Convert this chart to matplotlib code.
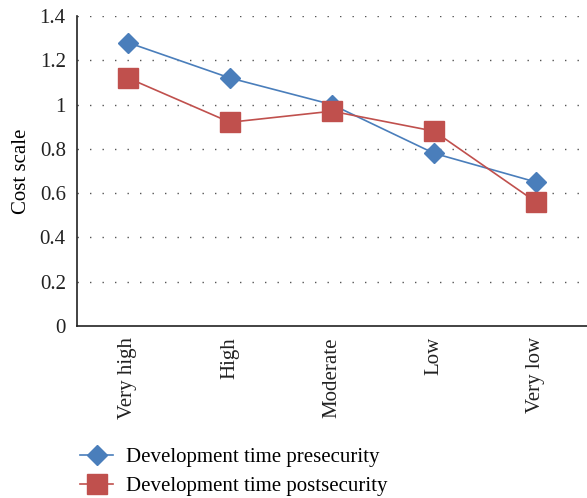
import numpy as np
import matplotlib
matplotlib.use("Agg")
import matplotlib.pyplot as plt

# ─────────────────────────────────────────────────────────────
# DATA
# ─────────────────────────────────────────────────────────────
levels = ["Very high", "High", "Moderate", "Low", "Very low"]
pre_security = [1.28, 1.12, 1.00, 0.78, 0.65]
post_security = [1.12, 0.92, 0.97, 0.88, 0.56]
y_ticks = [0, 0.2, 0.4, 0.6, 0.8, 1.0, 1.2, 1.4]
y_tick_labels = ["0", "0.2", "0.4", "0.6", "0.8", "1", "1.2", "1.4"]

plt.rcParams["font.family"] = ["Liberation Serif", "DejaVu Serif"]

BLUE = "#4A7EBB"
RED = "#C0504D"
FS = 15

fig = plt.figure(figsize=(5.87, 4.98), dpi=100)
ax = fig.add_axes([0.131, 0.3454, 0.869, 0.6225])

x = np.arange(len(levels)) + 0.5
ax.plot(x, pre_security, color=BLUE, linewidth=1.2, marker="D",
        markersize=10, markerfacecolor=BLUE, markeredgecolor=BLUE,
        label="Development time presecurity", zorder=3)
ax.plot(x, post_security, color=RED, linewidth=1.2, marker="s",
        markersize=14, markerfacecolor=RED, markeredgecolor=RED,
        label="Development time postsecurity", zorder=3)

ax.set_xlim(0, len(levels))
ax.set_ylim(0, 1.4)
ax.set_xticks(x)
ax.set_xticklabels(levels, rotation=90, fontsize=FS)
ax.set_yticks(y_ticks)
ax.set_yticklabels(y_tick_labels, fontsize=FS)
ax.tick_params(length=0, pad=8, colors="#222222")
ax.set_ylabel("Cost scale", fontsize=FS, labelpad=6)

for yv in y_ticks[1:]:
    ax.axhline(yv, color="#555555", linestyle=(0, (1, 8)), linewidth=1.0,
               zorder=1)

for side in ["top", "right"]:
    ax.spines[side].set_visible(False)
for side in ["left", "bottom"]:
    ax.spines[side].set_color("#222222")
    ax.spines[side].set_linewidth(1.2)

fig.legend(loc="lower left", bbox_to_anchor=(0.115, -0.022), frameon=False,
           fontsize=FS, handlelength=1.6, handletextpad=0.6,
           labelspacing=0.45, borderaxespad=0.2)

plt.savefig("out.png", dpi=100)
